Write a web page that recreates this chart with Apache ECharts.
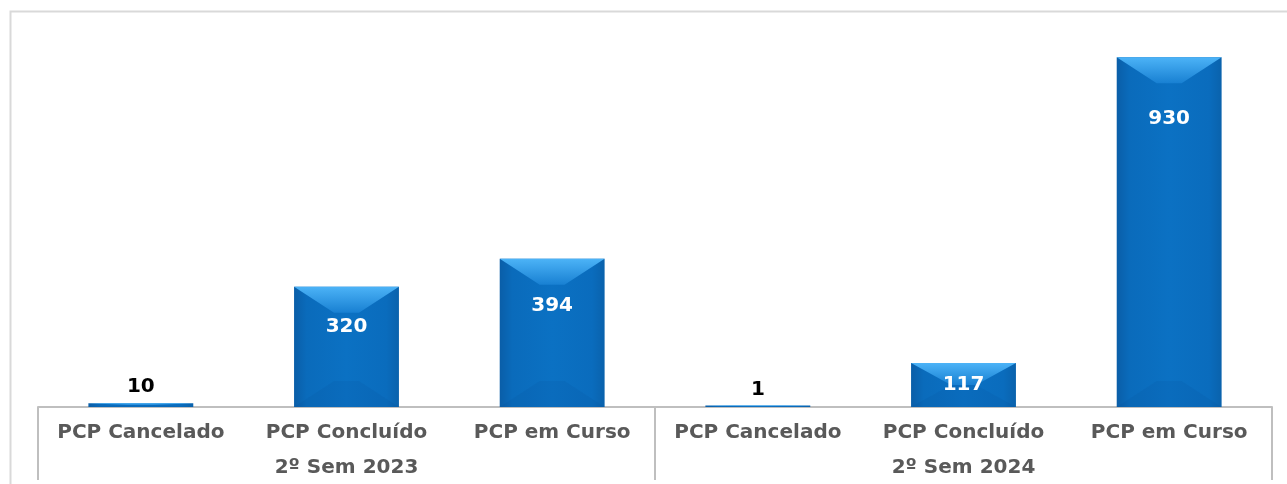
<!DOCTYPE html>
<html>
<head>
    <meta charset="utf-8">
    <title>PCP</title>
    <script src="https://cdn.jsdelivr.net/npm/echarts@6/dist/echarts.min.js"></script>
    <style>
        html, body { margin: 0; padding: 0; background: #fff; }
    </style>
</head>
<body>
    <div id="main" style="width:1287px;height:484px;"></div>
    <script type="text/javascript">
        // categorias (nível 1 e nível 2)
        var categories = ["PCP Cancelado", "PCP Concluído", "PCP em Curso",
                          "PCP Cancelado", "PCP Concluído", "PCP em Curso"];
        var groups = ["2º Sem 2023", "2º Sem 2024"];
        var values = [10, 320, 394, 1, 117, 930];
        // deslocamento do rótulo abaixo do topo da barra (px), 0 = acima da barra
        var labelDrop = [0, 40, 47, 0, 22, 61];

        var myChart = echarts.init(document.getElementById("main"));

        var font = "DejaVu Sans";

        function renderBar(params, api) {
            var idx = api.value(0);
            var val = api.value(1);
            var top = api.coord([idx, val]);
            var base = api.coord([idx, 0]);
            var band = api.size([1, 0])[0];
            var w = band * 0.51;
            var x0 = top[0] - w / 2, x1 = top[0] + w / 2;
            var y0 = top[1], y1 = base[1];
            var h = Math.max(y1 - y0, 1.5);
            y0 = y1 - h;
            var dy = Math.min(26, h / 2);
            var dx = Math.min(40, w / 2);
            var children = [
                {
                    type: "rect",
                    shape: { x: x0, y: y0, width: w, height: h },
                    style: {
                        fill: new echarts.graphic.LinearGradient(0, 0, 1, 0, [
                            { offset: 0, color: "#0a5ea8" },
                            { offset: 0.12, color: "#0a6bbb" },
                            { offset: 0.5, color: "#0b71c3" },
                            { offset: 0.88, color: "#0a6cbd" },
                            { offset: 1, color: "#0a62ac" }
                        ])
                    }
                },
                {
                    type: "polygon",
                    shape: { points: [[x0, y0], [x1, y0], [x1 - dx, y0 + dy], [x0 + dx, y0 + dy]] },
                    style: {
                        fill: new echarts.graphic.LinearGradient(0, 0, 0, 1, [
                            { offset: 0, color: "#4cb3f7" },
                            { offset: 1, color: "#1880d2" }
                        ])
                    }
                },
                {
                    type: "polygon",
                    shape: { points: [[x0, y1], [x1, y1], [x1 - dx, y1 - dy], [x0 + dx, y1 - dy]] },
                    style: { fill: "rgba(5,70,140,0.1)" }
                }
            ];
            var drop = labelDrop[params.dataIndex];
            var above = drop === 0;
            children.push({
                type: "text",
                style: {
                    text: String(val),
                    x: top[0],
                    y: above ? y0 - 16 : y0 + drop,
                    align: "center",
                    verticalAlign: "middle",
                    fill: above ? "#000000" : "#ffffff",
                    font: "bold 20px '" + font + "'"
                }
            });
            return { type: "group", children: children };
        }

        var barData = values.map(function (v, i) { return [i, v]; });

        var option = {
            animation: false,
            graphic: [{
                type: "rect",
                left: 8, top: 9,
                shape: { width: 1320, height: 520 },
                style: { fill: "none", stroke: "#d9d9d9", lineWidth: 2 },
                silent: true
            }],
            grid: { left: 38, right: 15, top: 31, bottom: 77 },
            xAxis: [{
                type: "category",
                data: categories,
                position: "bottom",
                axisLine: { lineStyle: { color: "#bfbfbf", width: 2 } },
                axisTick: { show: false },
                axisLabel: {
                    margin: 16, color: "#595959", fontSize: 20,
                    fontWeight: "bold", fontFamily: font, interval: 0
                }
            }, {
                type: "category",
                data: groups,
                position: "bottom",
                axisLine: { show: false },
                axisTick: { show: true, length: 73, lineStyle: { color: "#bfbfbf", width: 2 } },
                axisLabel: {
                    margin: 51, color: "#595959", fontSize: 20,
                    fontWeight: "bold", fontFamily: font
                }
            }],
            yAxis: {
                type: "value",
                min: 0, max: 1000,
                show: false,
                splitLine: { show: false }
            },
            series: [{
                type: "custom",
                xAxisIndex: 0,
                renderItem: renderBar,
                data: barData,
                encode: { x: 0, y: 1 }
            }]
        };
        myChart.setOption(option);
    </script>
</body>
</html>
